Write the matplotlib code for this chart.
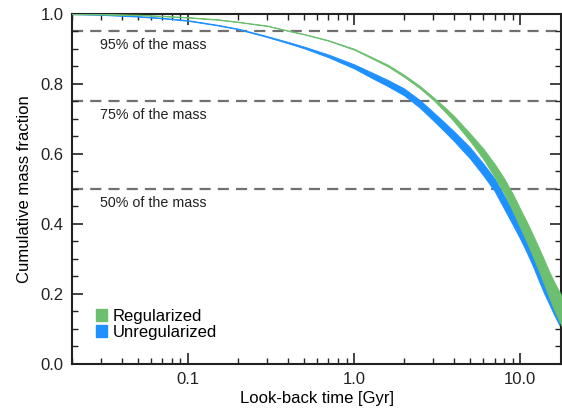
import numpy as np
import matplotlib
matplotlib.use("Agg")
import matplotlib.pyplot as plt
from matplotlib.patches import Patch
from matplotlib.ticker import FixedLocator, LogLocator, MultipleLocator, NullFormatter

plt.rcParams['font.family'] = ['Liberation Sans', 'DejaVu Sans']

# look-back time grid [Gyr]
t_gyr = [0.02, 0.03, 0.05, 0.07, 0.1, 0.15, 0.2, 0.3, 0.4, 0.5, 0.7, 1.0, 1.3, 1.6, 2.0,
         2.5, 3.0, 3.5, 4.0, 5.0, 6.0, 7.0, 8.0, 9.0, 10.0, 11.0, 12.0, 13.0, 14.0, 15.0,
         16.0, 17.7]

# unregularized solution: band centre and half-width
mid_unreg = [1.000, 0.998, 0.993, 0.988, 0.981, 0.968, 0.957, 0.935, 0.918, 0.904, 0.880,
             0.850, 0.823, 0.802, 0.777, 0.742, 0.707, 0.677, 0.650, 0.602, 0.555, 0.512,
             0.462, 0.418, 0.378, 0.338, 0.298, 0.258, 0.222, 0.192, 0.163, 0.122]
hw_unreg = [0.001, 0.001, 0.001, 0.001, 0.001, 0.001, 0.001, 0.0015, 0.002, 0.0025, 0.004,
            0.006, 0.008, 0.009, 0.010, 0.011, 0.012, 0.013, 0.014, 0.016, 0.017, 0.018,
            0.019, 0.020, 0.021, 0.022, 0.022, 0.023, 0.023, 0.023, 0.023, 0.023]

# regularized solution: band centre and half-width
mid_reg = [1.000, 0.999, 0.997, 0.994, 0.990, 0.984, 0.977, 0.966, 0.952, 0.942, 0.924,
           0.899, 0.873, 0.852, 0.823, 0.790, 0.758, 0.728, 0.700, 0.647, 0.600, 0.553,
           0.508, 0.462, 0.416, 0.375, 0.335, 0.297, 0.260, 0.225, 0.195, 0.152]
hw_reg = [0.0008, 0.0008, 0.0008, 0.0008, 0.0008, 0.0008, 0.0008, 0.0008, 0.0008, 0.0008,
          0.001, 0.0015, 0.002, 0.0025, 0.003, 0.0035, 0.004, 0.006, 0.008, 0.011, 0.015,
          0.019, 0.022, 0.025, 0.027, 0.029, 0.031, 0.033, 0.035, 0.037, 0.040, 0.043]

levels = [0.95, 0.75, 0.50]
level_labels = ['95% of the mass', '75% of the mass', '50% of the mass']

green = '#6cbf6f'
blue = '#1e90ff'

fig = plt.figure(figsize=(5.62, 4.08), dpi=100)
ax = fig.add_axes([0.128, 0.108, 0.871, 0.858])

# reference levels
for y, lab in zip(levels, level_labels):
    ax.axhline(y, color='#707070', lw=1.6, dashes=(5, 3.2), zorder=1)
    ax.text(0.0295, y - 0.04, lab, fontsize=10.3, va='center', ha='left', color='#222222')

t = np.array(t_gyr)
mu, hu = np.array(mid_unreg), np.array(hw_unreg)
ax.fill_between(t, mu - hu, mu + hu, color=blue, lw=0.6, edgecolor=blue, zorder=2)

mr, hr = np.array(mid_reg), np.array(hw_reg)
ax.fill_between(t, mr - hr, mr + hr, color=green, lw=0.6, edgecolor=green, zorder=3)

ax.set_xscale('log')
ax.set_xlim(0.02, 17.7)
ax.set_ylim(0.0, 1.0)

ax.xaxis.set_major_locator(FixedLocator([0.1, 1.0, 10.0]))
ax.set_xticklabels(['0.1', '1.0', '10.0'])
ax.xaxis.set_minor_locator(LogLocator(base=10, subs=np.arange(2, 10)))
ax.xaxis.set_minor_formatter(NullFormatter())
ax.yaxis.set_major_locator(MultipleLocator(0.2))
ax.yaxis.set_minor_locator(MultipleLocator(0.05))
ax.set_yticklabels(['%.1f' % v for v in ax.get_yticks()])

ax.tick_params(which='both', direction='in', top=True, right=True, labelsize=12, colors='#222222')
ax.tick_params(which='major', length=8, width=1.2, pad=6)
ax.tick_params(which='minor', length=4, width=1.0)
for s in ax.spines.values():
    s.set_linewidth(1.5)
    s.set_color('#222222')

ax.set_xlabel('Look-back time [Gyr]', fontsize=12, labelpad=3)
ax.set_ylabel('Cumulative mass fraction', fontsize=12, labelpad=6)

handles = [Patch(color=green, label='Regularized'), Patch(color=blue, label='Unregularized')]
ax.legend(handles=handles, loc='lower left', bbox_to_anchor=(0.035, 0.05), frameon=False,
          fontsize=12, handlelength=0.7, handleheight=0.7, handletextpad=0.3,
          labelspacing=0.05, borderaxespad=0.0)

fig.savefig('out.png', dpi=100)
